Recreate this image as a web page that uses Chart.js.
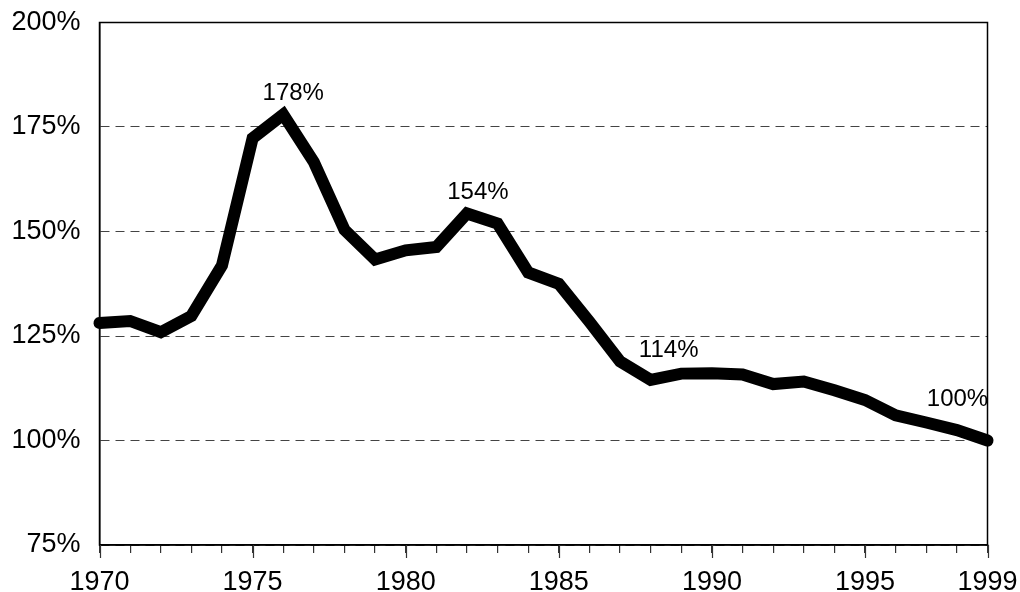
<!DOCTYPE html>
<html>
<head>
<meta charset="utf-8">
<script src="https://cdn.jsdelivr.net/npm/chart.js@4/dist/chart.umd.min.js"></script>
<style>
  html, body { margin: 0; padding: 0; background: #fff; }
  #wrap { width: 1020px; height: 592px; }
</style>
</head>
<body>
<div id="wrap"><canvas id="lineChart"></canvas></div>
<script>
var years = [1970, 1971, 1972, 1973, 1974, 1975, 1976, 1977, 1978, 1979,
             1980, 1981, 1982, 1983, 1984, 1985, 1986, 1987, 1988, 1989,
             1990, 1991, 1992, 1993, 1994, 1995, 1996, 1997, 1998, 1999];
var values = [128.1, 128.6, 125.9, 129.8, 141.9, 172.3, 178.0, 166.6, 150.4, 143.3,
              145.5, 146.3, 154.3, 151.9, 140.2, 137.5, 128.4, 118.9, 114.5, 116.0,
              116.1, 115.8, 113.5, 114.1, 112.0, 109.7, 106.0, 104.3, 102.5, 100.0];
var labelYears = [1970, 1975, 1980, 1985, 1990, 1995, 1999];
var yTicks = [75, 100, 125, 150, 175, 200];
var noteYears = [1976, 1982, 1988, 1999];
var noteTexts = ["178%", "154%", "114%", "100%"];

var FONT = "'Liberation Sans', Arial, sans-serif";

// offsets of the value notes relative to their points
var noteOffsets = [[10, -21], [11, -21], [18, -30], [-30, -41]];

var boxPlugin = {
    id: 'box',
    afterDatasetsDraw: function (chart) {
        var ctx = chart.ctx, a = chart.chartArea, x = chart.scales.x, y = chart.scales.y;
        ctx.save();
        ctx.strokeStyle = '#000';
        ctx.lineWidth = 1.5;
        ctx.strokeRect(a.left, a.top, a.right - a.left, a.bottom - a.top);
        // longer ticks at the labelled years
        ctx.lineWidth = 1.2;
        ctx.strokeStyle = '#333';
        labelYears.forEach(function (yr) {
            var px = Math.round(x.getPixelForValue(yr)) + 0.5;
            ctx.beginPath();
            ctx.moveTo(px, a.bottom);
            ctx.lineTo(px, a.bottom + 13);
            ctx.stroke();
        });
        // value notes
        ctx.fillStyle = '#000';
        ctx.font = '24px ' + FONT;
        ctx.textAlign = 'center';
        ctx.textBaseline = 'middle';
        noteYears.forEach(function (yr, i) {
            var v = values[years.indexOf(yr)];
            ctx.fillText(noteTexts[i], x.getPixelForValue(yr) + noteOffsets[i][0],
                         y.getPixelForValue(v) + noteOffsets[i][1]);
        });
        ctx.restore();
    }
};

var lineData = {
    labels: years,
    datasets: [
        {
            label: "index",
            data: years.map(function (yr, i) { return {x: yr, y: values[i]}; }),
            borderColor: "#000",
            borderWidth: 12,
            borderCapStyle: 'round',
            borderJoinStyle: 'miter',
            pointRadius: 0,
            tension: 0,
            fill: false,
            clip: false
        }
    ]
};

var lineOptions = {
    responsive: true,
    maintainAspectRatio: false,
    animation: false,
    layout: {padding: {top: 22.5, right: 32.5, left: 0, bottom: 0}},
    plugins: {legend: {display: false}, tooltip: {enabled: false}},
    scales: {
        x: {
            type: 'linear',
            min: 1970,
            max: 1999,
            afterFit: function (s) {
                s.height = 47;
                s.paddingLeft = 0;
                s.paddingRight = 0;
            },
            afterBuildTicks: function (s) {
                s.ticks = years.map(function (yr) { return {value: yr}; });
            },
            ticks: {
                autoSkip: false,
                maxRotation: 0,
                padding: 13,
                color: '#000',
                font: {family: FONT, size: 27},
                callback: function (v) {
                    return labelYears.indexOf(v) >= 0 ? String(v) : '';
                }
            },
            grid: {drawOnChartArea: false, drawTicks: true, tickLength: 8, color: '#333', lineWidth: 1.2},
            border: {display: true, color: '#000', width: 1.5}
        },
        y: {
            min: 75,
            max: 200,
            afterFit: function (s) {
                s.width = 99.5;
                s.paddingTop = 0;
                s.paddingBottom = 0;
            },
            afterBuildTicks: function (s) {
                s.ticks = yTicks.map(function (v) { return {value: v}; });
            },
            ticks: {
                padding: 19,
                color: '#000',
                font: {family: FONT, size: 27},
                callback: function (v) { return v + '%'; }
            },
            grid: {drawTicks: false, color: '#444', lineWidth: 1},
            border: {display: true, color: '#000', width: 1.5, dash: [9, 6]}
        }
    }
};

var ctx = document.getElementById("lineChart").getContext("2d");
new Chart(ctx, {type: 'line', data: lineData, options: lineOptions, plugins: [boxPlugin]});
</script>
</body>
</html>
